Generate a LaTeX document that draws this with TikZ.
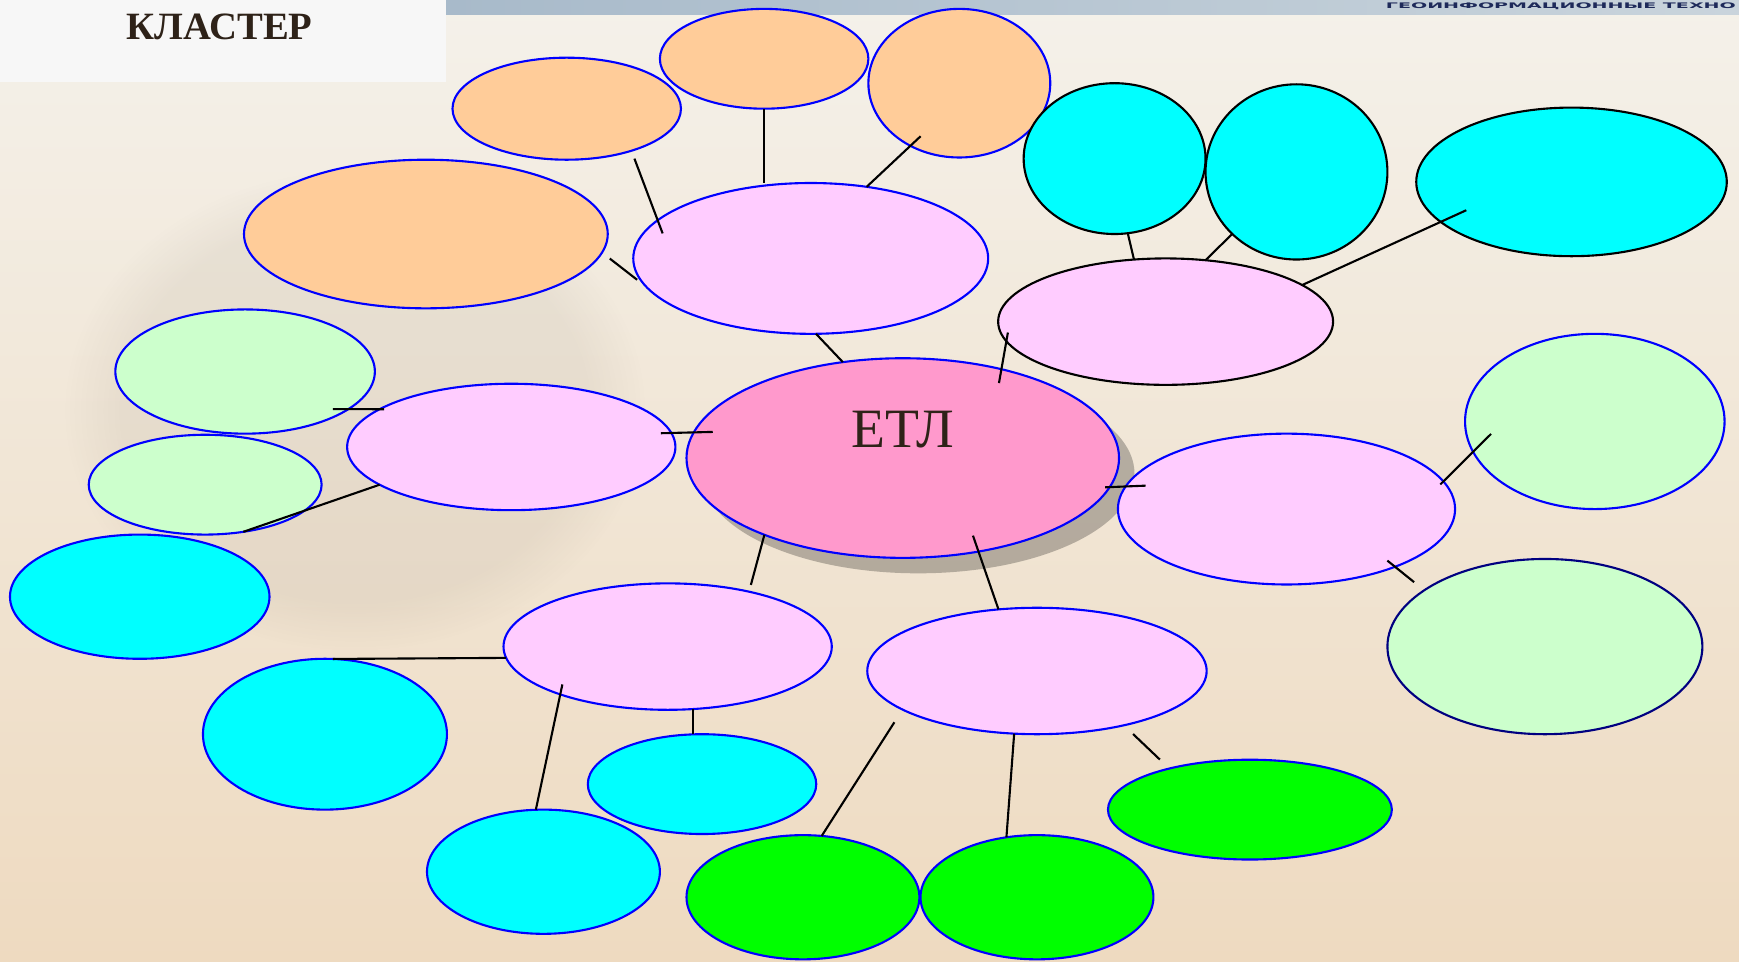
\documentclass[tikz,border=0pt]{standalone}
\usepackage{fontspec}
\setmainfont{Liberation Serif}
\newfontfamily\stripfont{DejaVu Sans}
\usepackage{xcolor}
\usepackage{graphicx}
\usetikzlibrary{shapes.geometric, shadows, fadings}

\definecolor{etlpink}{HTML}{FF99CC}
\definecolor{lilac}{HTML}{FFCCFF}
\definecolor{peach}{HTML}{FFCC99}
\definecolor{aqua}{HTML}{00FFFF}
\definecolor{mint}{HTML}{CCFFCC}
\definecolor{lime}{HTML}{00FF00}
\definecolor{rim}{HTML}{0000FF}
\definecolor{rimnavy}{HTML}{000080}
\definecolor{inkbrown}{HTML}{2E2218}
\definecolor{stripnavy}{HTML}{1E2A5A}
\definecolor{stripleft}{HTML}{A8BACA}
\definecolor{stripright}{HTML}{C9D4DC}
\definecolor{bgtop}{HTML}{F4F1EA}
\definecolor{bgmid}{HTML}{FCF8EA}
\definecolor{bgbottom}{HTML}{EEDAC0}
\definecolor{titlewhite}{HTML}{F7F7F7}
\definecolor{househaze}{HTML}{8A8070}

\begin{document}
\begin{tikzpicture}[
        x=0.01109cm, y=-0.01109cm,
        el/.style 2 args={ellipse, draw=rim, line width=0.6pt, inner sep=0pt, outer sep=0pt,
            minimum width=#1*0.02218cm, minimum height=#2*0.02218cm},
        conn/.style={line width=0.6pt, black}
    ]
    \useasboundingbox (0,0) rectangle (1568,867);
    \clip (0,0) rectangle (1568,867);
    \fill[top color=bgtop, middle color=bgmid, bottom color=bgbottom] (0,0) rectangle (1568,867);
    \fill[househaze, opacity=0.1, path fading=circle with fuzzy edge 20 percent]
        (320,370) ellipse [x radius=2.9cm, y radius=2.4cm];
    \fill[left color=stripleft, right color=stripright] (402,0) rectangle (1568,13.5);
    \fill[titlewhite] (0,0) rectangle (402,74);
    \node[anchor=base, inner sep=0pt, text=inkbrown, font=\bfseries\fontsize{11}{13}\selectfont] (title) at (198,36) {КЛАСТЕР};
    \node[anchor=base west, inner sep=0pt, text=stripnavy] (striptext) at (1249,7.5)
        {\resizebox{3.5cm}{0.057cm}{\stripfont\bfseries ГЕОИНФОРМАЦИОННЫЕ ТЕХНО}};

    \node[el={195}{90}, fill=etlpink, drop shadow={shadow xshift=4.4pt, shadow yshift=-4.4pt, fill=black, opacity=0.25}] (etl) at (814,413) {};
    \node[anchor=base, inner sep=0pt, text=inkbrown, font=\fontsize{15.8}{18}\selectfont] (etltext) at (814,403.7) {ЕТЛ};

    \node[el={160}{68}, fill=lilac] (tp) at (731,233) {};
    \node[el={151}{57}, fill=lilac, draw=black] (trp) at (1051,290) {};
    \node[el={148}{57}, fill=lilac] (lp) at (461,403) {};
    \node[el={152}{68}, fill=lilac] (rp) at (1160,459) {};
    \node[el={148}{57}, fill=lilac] (blp) at (602,583) {};
    \node[el={153}{57}, fill=lilac] (brp) at (935,605) {};

    \node[el={103}{46}, fill=peach] (o1) at (511,98) {};
    \node[el={94}{45}, fill=peach] (o2) at (689,53) {};
    \node[el={82}{67}, fill=peach] (o3) at (865,75) {};
    \node[el={164}{67}, fill=peach] (o4) at (384,211) {};

    \node[el={82}{68}, fill=aqua, draw=black] (c1) at (1005,143) {};
    \node[el={82}{79}, fill=aqua, draw=black] (c2) at (1169,155) {};
    \node[el={140}{67}, fill=aqua, draw=black] (c3) at (1417,164) {};
    \node[el={117}{56}, fill=aqua] (c4) at (126,538) {};
    \node[el={110}{68}, fill=aqua] (c5) at (293,662) {};
    \node[el={103}{45}, fill=aqua] (c6) at (633,707) {};
    \node[el={105}{56}, fill=aqua] (c7) at (490,786) {};

    \node[el={117}{56}, fill=mint] (g1) at (221,335) {};
    \node[el={105}{45}, fill=mint] (g2) at (185,437) {};
    \node[el={117}{79}, fill=mint] (g3) at (1438,380) {};
    \node[el={142}{79}, fill=mint, draw=rimnavy] (g4) at (1393,583) {};

    \node[el={128}{45}, fill=lime] (l1) at (1127,730) {};
    \node[el={105}{56}, fill=lime] (l2) at (724,809) {};
    \node[el={105}{56}, fill=lime] (l3) at (935,809) {};

    \draw[conn] (tp.-86) -- (etl.122);
    \draw[conn, shorten <=2.8pt, shorten >=3.5pt] (o4.-6) -- (tp.190);
    \draw[conn, shorten <=2.4pt, shorten >=-4pt] (o1.-33) -- (tp.166);
    \draw[conn] (o2.south) -- (o2.south |- tp.north);
    \draw[conn, shorten <=-4pt] (o3.232) -- (tp.52);
    \draw[conn, shorten <=-2.5pt, shorten >=-4pt] (trp.187) -- (etl.42);
    \draw[conn] (c1.-80) -- (trp.117);
    \draw[conn] (c2.224) -- (trp.57);
    \draw[conn, shorten <=-8pt] (c3.197) -- (trp.15);
    \draw[conn, shorten <=-3pt, shorten >=-5.4pt] (lp.5) -- (etl.173);
    \draw[conn, shorten <=-4.4pt, shorten >=-1.3pt] (g1.-20) -- (lp.164);
    \draw[conn] (lp.196) -- (g2.-51);
    \draw[conn, shorten <=-1.3pt, shorten >=-5.7pt] (etl.-8.3) -- (rp.172.6);
    \draw[conn, shorten <=-7.2pt, shorten >=-1.2pt] (g3.194) -- (rp.10);
    \draw[conn, shorten <=-2.8pt, shorten >=3.7pt] (rp.-28) -- (g4.155);
    \draw[conn, shorten >=2pt] (etl.209) -- (blp.34);
    \draw[conn, shorten <=-4.8pt] (etl.-51) -- (brp.122);
    \draw[conn] (blp.184.7) -- (c5.84);
    \draw[conn, shorten <=-2.9pt] (blp.204) -- (c7.97);
    \draw[conn] (blp.-68.7) -- (blp.-68.7 |- c6.north);
    \draw[conn, shorten <=4.3pt] (brp.196) -- (l2.73);
    \draw[conn] (brp.250) -- (l3.117);
    \draw[conn, shorten <=3.6pt, shorten >=3.7pt] (brp.-32) -- (l1.153.5);
\end{tikzpicture}
\end{document}
